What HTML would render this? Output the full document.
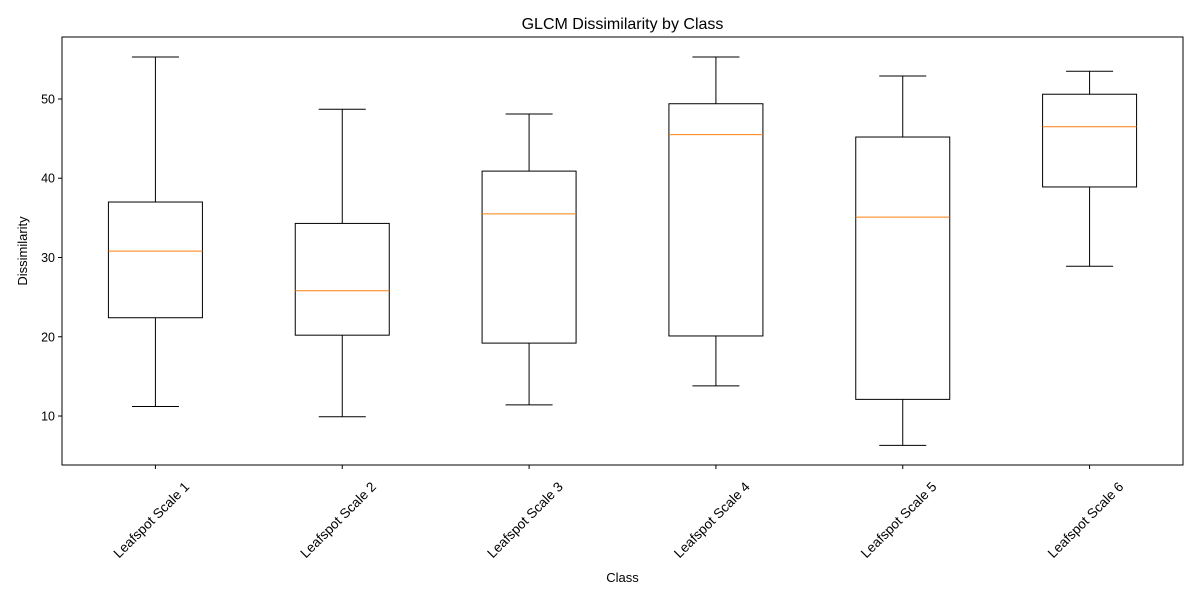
<!DOCTYPE html>
<html><head><meta charset="utf-8"><style>
html,body{margin:0;padding:0;background:#fff;}
svg{display:block;font-family:"Liberation Sans","DejaVu Sans",sans-serif;}
</style></head><body>
<svg id="chart" width="1200" height="600" xmlns="http://www.w3.org/2000/svg"></svg>
<script>
const categories = ["Leafspot Scale 1","Leafspot Scale 2","Leafspot Scale 3","Leafspot Scale 4","Leafspot Scale 5","Leafspot Scale 6"];
const whiskerLow = [11.2, 9.9, 11.4, 13.8, 6.3, 28.9];
const q1 = [22.4, 20.2, 19.2, 20.1, 12.1, 38.9];
const medians = [30.8, 25.8, 35.5, 45.5, 35.1, 46.5];
const q3 = [37.0, 34.3, 40.9, 49.4, 45.2, 50.6];
const whiskerHigh = [55.3, 48.7, 48.1, 55.3, 52.9, 53.5];
const yTicks = [10, 20, 30, 40, 50];

const svg = document.getElementById('chart');
const NS = 'http://www.w3.org/2000/svg';
const L = 62, R = 1183, T = 37, B = 465;
const yMin = 3.82, yMax = 57.82;
const y = v => B - (v - yMin) / (yMax - yMin) * (B - T);
const x = i => L + (i + 0.5) / categories.length * (R - L);
function mk(tag, attrs, parent) {
  const e = document.createElementNS(NS, tag);
  for (const k in attrs) e.setAttribute(k, attrs[k]);
  (parent || svg).appendChild(e);
  return e;
}
const title = mk('text', {x: (L + R) / 2, y: 29, 'text-anchor': 'middle', 'font-size': 16, fill: '#000'});
title.textContent = 'GLCM Dissimilarity by Class';



const ylab = mk('text', {x: 0, y: 0, transform: 'translate(27,251) rotate(-90)', 'text-anchor': 'middle', 'font-size': 13});
ylab.textContent = 'Dissimilarity';



const xlab = mk('text', {x: (L + R) / 2, y: 582, 'text-anchor': 'middle', 'font-size': 13});
xlab.textContent = 'Class';



yTicks.forEach(t => {
  const g = mk('g', {});
  
  
  mk('line', {x1: L - 4, x2: L, y1: y(t), y2: y(t), stroke: '#000', 'stroke-width': 1}, g);
  const tx = mk('text', {x: L - 7, y: y(t) + 4.5, 'text-anchor': 'end', 'font-size': 12.5}, g);
  tx.textContent = t;
});

categories.forEach((c, i) => {
  const cx = x(i), hw = 47, cw = 23.5;
  const g = mk('g', {});
  
  
  mk('line', {x1: cx, x2: cx, y1: y(whiskerHigh[i]), y2: y(q3[i]), stroke: '#000'}, g);
  mk('line', {x1: cx, x2: cx, y1: y(q1[i]), y2: y(whiskerLow[i]), stroke: '#000'}, g);
  mk('line', {x1: cx - cw, x2: cx + cw, y1: y(whiskerHigh[i]), y2: y(whiskerHigh[i]), stroke: '#000'}, g);
  mk('line', {x1: cx - cw, x2: cx + cw, y1: y(whiskerLow[i]), y2: y(whiskerLow[i]), stroke: '#000'}, g);
  mk('rect', {x: cx - hw, y: y(q3[i]), width: 2 * hw, height: y(q1[i]) - y(q3[i]), fill: 'none', stroke: '#000'}, g);
  mk('line', {x1: cx - hw, x2: cx + hw, y1: y(medians[i]), y2: y(medians[i]), stroke: '#ff7f0e'}, g);
  const tg = mk('g', {});
  
  
  mk('line', {x1: cx, x2: cx, y1: B, y2: B + 4, stroke: '#000'}, tg);
  const tx = mk('text', {x: 0, y: 4.5, transform: `translate(${cx - 4},${B + 55}) rotate(-45)`, 'text-anchor': 'middle', 'font-size': 13.5}, tg);
  tx.textContent = c;
});

const frame = mk('rect', {x: L, y: T, width: R - L, height: B - T, fill: 'none', stroke: '#000', 'stroke-width': 1});


</script>
</body></html>
